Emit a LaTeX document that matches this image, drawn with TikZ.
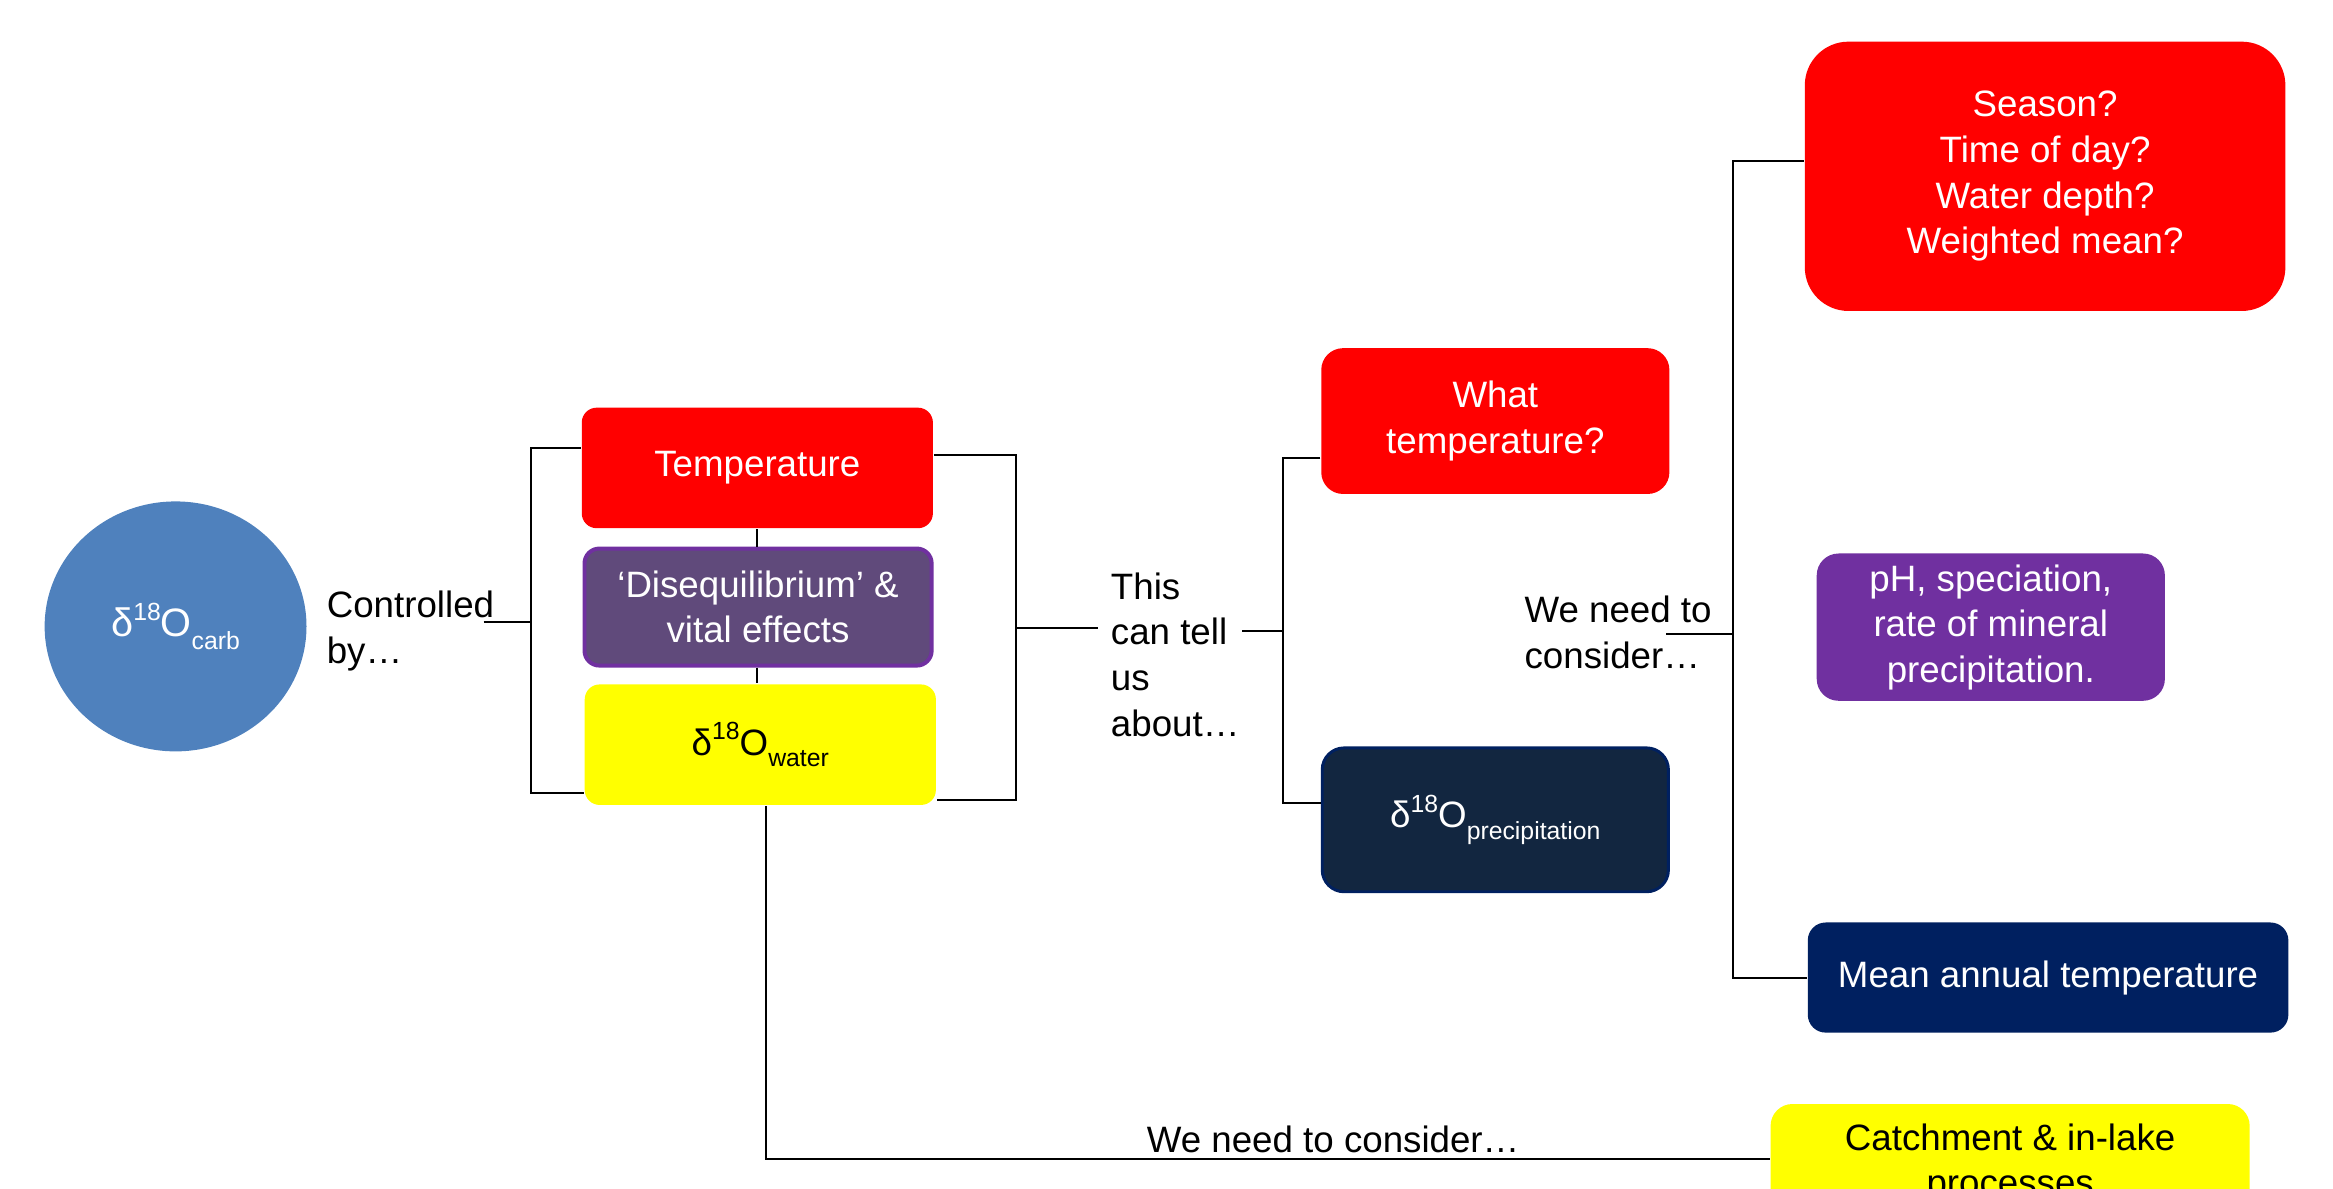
\documentclass[tikz,border=0pt]{standalone}
\usepackage{fontspec}
\setmainfont{Liberation Sans}
\usetikzlibrary{shapes.geometric}

\definecolor{carbblue}{RGB}{79,129,189}
\definecolor{boxred}{RGB}{255,0,0}
\definecolor{diseqfill}{RGB}{96,74,123}
\definecolor{diseqline}{RGB}{112,48,160}
\definecolor{boxyellow}{RGB}{255,255,0}
\definecolor{precipfill}{RGB}{18,38,64}
\definecolor{navyline}{RGB}{0,32,96}
\definecolor{phpurple}{RGB}{112,48,160}

\newcommand{\isosup}[1]{\raisebox{0.42em}{\fontsize{12.5}{12.5}\selectfont #1}}
\newcommand{\isosub}[1]{\raisebox{-0.32em}{\fontsize{12.5}{12.5}\selectfont #1}}

\tikzset{every picture/.style={line width=1pt}}
\tikzset{
  lbl/.style={font={\fontsize{18.5}{23}\selectfont}, inner sep=0pt, align=left},
  card/.style={font={\fontsize{18.5}{23}\selectfont}, inner sep=0pt, align=center, text=white},
}

\begin{document}
\begin{tikzpicture}[x=0.75pt,y=0.75pt,yscale=-1,xscale=1]
\useasboundingbox (0,0) rectangle (1568,799);
\clip (0,0) rectangle (1568,799);

%Shape: Ellipse
\node (carb) at (118,421) [card, ellipse, fill=carbblue, minimum width=132pt, minimum height=126pt, font={\fontsize{20}{24}\selectfont}] {δ\isosup{18}O\isosub{carb}};
% Text Node
\node (ctrl) at (219,424) [lbl, anchor=west] {Controlled\\by…};
\coordinate (ctrlend) at (325,418);
\coordinate (lspine) at (357,418);

%Shape: Rounded Rectangle
\node (temp) at (509,314.5) [card, fill=boxred, rounded corners=7.5pt, minimum width=177pt, minimum height=60.75pt] {Temperature};
%Shape: Rounded Rectangle
\node (diseq) at (509.5,408) [card, fill=diseqfill, draw=diseqline, line width=2pt, rounded corners=7.5pt, minimum width=175pt, minimum height=59pt] {‘Disequilibrium’ \&\\vital effects};
%Shape: Rounded Rectangle
\node (water) at (511,500.5) [card, text=black, fill=boxyellow, rounded corners=7.5pt, minimum width=177pt, minimum height=60.75pt] {δ\isosup{18}O\isosub{water}};

%Straight Lines
\draw (ctrlend) -- (lspine);
\draw (temp.west |- 0,301) -| (lspine) |- (water.west |- 0,533);
\draw (temp.south) -- (temp.south |- diseq.north);
\draw (diseq.south -| temp.south) -- (temp.south |- water.north);

% Text Node
\node (tell) at (746,440) [lbl, anchor=west] {This\\can tell\\us\\about…};
\coordinate (rspine) at (683,422);
\coordinate (tellstart) at (738,422);
\coordinate (tellend) at (835,424);
\coordinate (mspine) at (862,424);

%Straight Lines
\draw (temp.east |- 0,306) -| (rspine) |- (water.east |- 0,538);
\draw (rspine) -- (tellstart);

%Shape: Rounded Rectangle
\node (whattemp) at (1005,283) [card, fill=boxred, rounded corners=11pt, minimum width=175.5pt, minimum height=73.5pt] {What\\temperature?};
%Shape: Rounded Rectangle
\node (precip) at (1005,551) [card, fill=precipfill, draw=navyline, line width=1.5pt, rounded corners=11pt, minimum width=174.5pt, minimum height=72.5pt] {δ\isosup{18}O\isosub{precipitation}};

%Straight Lines
\draw (tellend) -- (mspine);
\draw (whattemp.west |- 0,308) -| (mspine) |- (precip.west |- 0,540);

% Text Node
\node (cons) at (1024,425) [lbl, anchor=west] {We need to\\consider…};
\coordinate (consend) at (1120,426);
\coordinate (rrspine) at (1165,426);

%Shape: Rounded Rectangle
\node (season) at (1374.5,118.5) [card, fill=boxred, rounded corners=22pt, minimum width=242.25pt, minimum height=135.75pt] {Season?\\Time of day?\\Water depth?\\Weighted mean?};
%Shape: Rounded Rectangle
\node (ph) at (1338,421.5) [card, fill=phpurple, rounded corners=11pt, minimum width=175.5pt, minimum height=74.25pt] {pH, speciation,\\rate of mineral\\precipitation.};
%Shape: Rounded Rectangle
\node (mean) at (1376.5,657) [card, fill=navyline, rounded corners=9pt, minimum width=242.25pt, minimum height=55.5pt] {Mean annual temperature};

%Straight Lines
\draw (consend) -- (rrspine);
\draw (season.west |- 0,108) -| (rrspine) |- (mean.west |- 0,657);

%Shape: Rounded Rectangle
\node (catch) at (1351,782) [card, text=black, fill=boxyellow, rounded corners=11pt, minimum width=241.5pt, minimum height=60pt] {Catchment \& in-lake\\processes};
% Text Node
\node (consb) at (896,766) [lbl] {We need to consider…};

%Straight Lines
\draw (water.south -| 515,0) |- (catch.west |- 0,779);

\end{tikzpicture}
\end{document}
